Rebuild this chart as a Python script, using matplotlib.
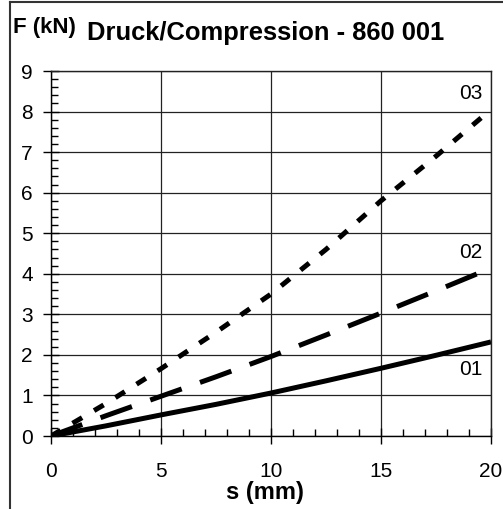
import numpy as np
import matplotlib
matplotlib.use('Agg')
import matplotlib.pyplot as plt
from matplotlib.lines import Line2D
from matplotlib.ticker import MultipleLocator

plt.rcParams['font.family'] = ['Liberation Sans', 'DejaVu Sans']
plt.rcParams['lines.scale_dashes'] = False

# travel s (mm)
s = [0, 2.5, 5, 7.5, 10, 12.5, 15, 17.5, 20]
# force F (kN) per spring
f_01 = [0, 0.25, 0.52, 0.78, 1.06, 1.36, 1.67, 1.99, 2.32]
f_02 = [0, 0.50, 0.98, 1.46, 1.96, 2.49, 3.03, 3.58, 4.14]
f_03 = [0, 0.80, 1.66, 2.56, 3.50, 4.60, 5.80, 6.90, 8.05]

labels = ['01', '02', '03']
label_pos = [(19.1, 1.63), (19.1, 4.53), (19.1, 8.45)]

fig = plt.figure(figsize=(5.03, 5.09), dpi=100)
ax = fig.add_axes([51/503, 1-436/509, 440/503, 365/509])

ax.plot(s, f_01, color='black', lw=3.6, solid_capstyle='butt')
ax.plot(s, f_02, color='black', lw=3.6, dashes=(24, 14))
ax.plot(s, f_03, color='black', lw=3.6, dashes=(8, 10))

for lab, (x, y) in zip(labels, label_pos):
    ax.text(x, y, lab, fontsize=15, ha='center', va='center')

ax.set_xlim(0, 20)
ax.set_ylim(0, 9)
ax.xaxis.set_major_locator(MultipleLocator(5))
ax.xaxis.set_minor_locator(MultipleLocator(1))
ax.yaxis.set_major_locator(MultipleLocator(1))
ax.yaxis.set_minor_locator(MultipleLocator(0.2))
ax.grid(True, which='major', color='#222222', lw=0.9)
ax.tick_params(which='major', direction='inout', length=12, width=1, labelsize=15)
ax.tick_params(axis='y', which='major', pad=7)
ax.tick_params(axis='x', which='major', pad=13)
ax.tick_params(which='minor', direction='in', length=5, width=1)
for sp in ax.spines.values():
    sp.set_linewidth(1)
ax.spines['top'].set_color('#222222')
ax.spines['right'].set_color('#222222')

ax.set_xlabel('s (mm)', fontsize=17, fontweight='bold', va='top')
ax.xaxis.set_label_coords((264.5-51)/440, (436-481)/365)

fig.text(13/503, 1-27/509, 'F (kN)', fontsize=16, fontweight='bold', va='center', ha='left')
fig.text(87/503, 1-33/509, 'Druck/Compression - 860 001', fontsize=18.4, fontweight='bold', va='center', ha='left')

# outer frame (left and top edges)
fig.add_artist(Line2D([10/503, 10/503], [0, 1-2/509], color='#333333', lw=1.5))
fig.add_artist(Line2D([10/503, 1], [1-2/509, 1-2/509], color='#333333', lw=1.5))

fig.savefig('out.png', dpi=100)
